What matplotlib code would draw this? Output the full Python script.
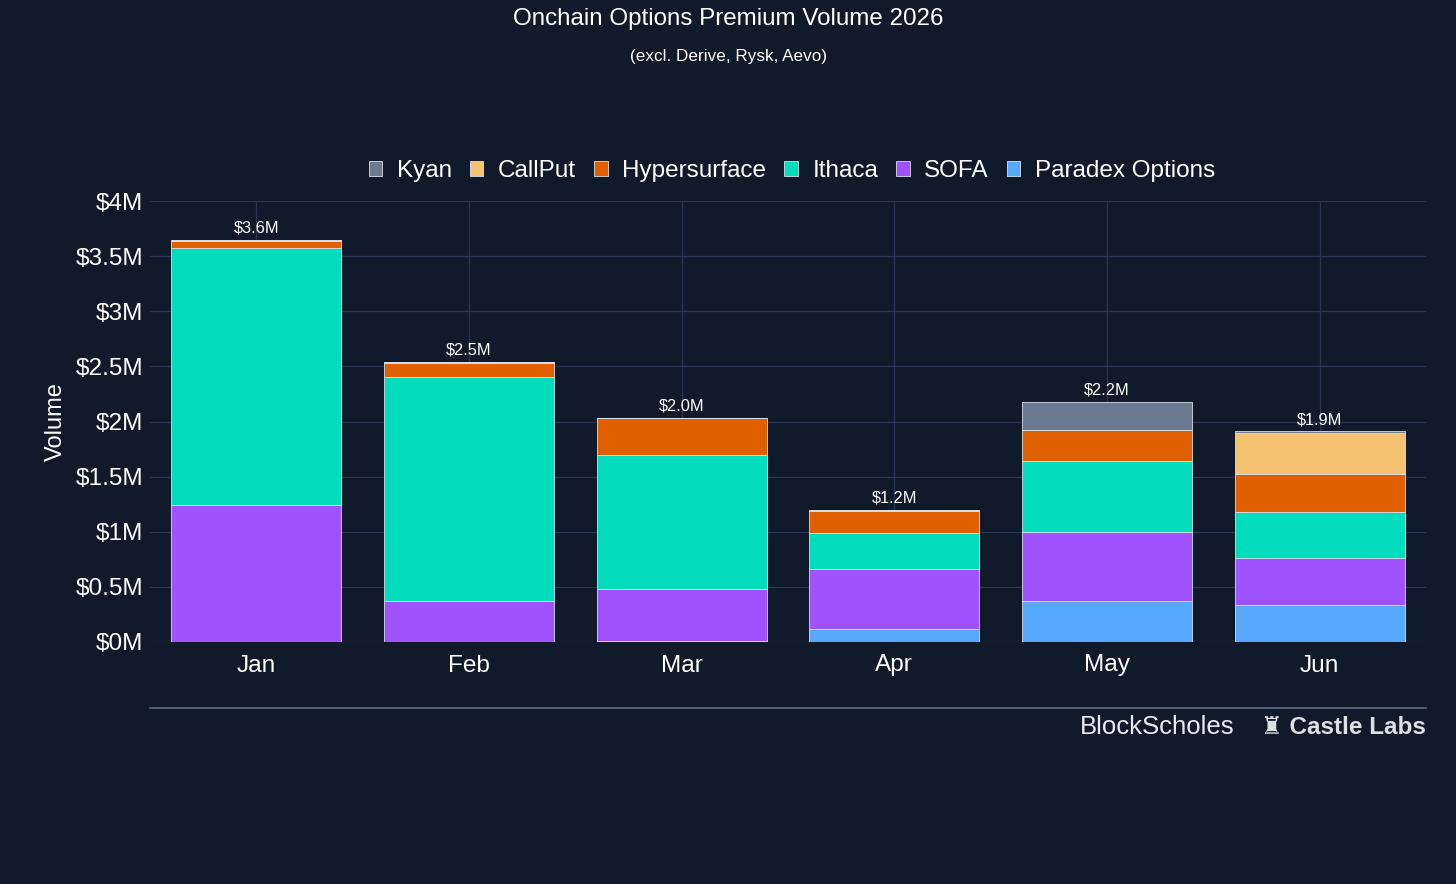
import numpy as np
import matplotlib.pyplot as plt

plt.rcParams['font.family'] = ['Liberation Sans', 'DejaVu Sans']

# 数据 (单位: 百万美元)，从下往上堆叠
months = ["Jan", "Feb", "Mar", "Apr", "May", "Jun"]
paradex = [0.00, 0.00, 0.01, 0.12, 0.37, 0.34]
sofa = [1.24, 0.37, 0.47, 0.54, 0.63, 0.42]
ithaca = [2.33, 2.03, 1.22, 0.33, 0.64, 0.42]
hypersurface = [0.07, 0.13, 0.33, 0.20, 0.28, 0.34]
callput = [0.005, 0.01, 0.005, 0.005, 0.005, 0.38]
kyan = [0.0, 0.0, 0.0, 0.0, 0.25, 0.01]

series = [
    ("Paradex Options", paradex, "#57a9ff"),
    ("SOFA", sofa, "#a052ff"),
    ("Ithaca", ithaca, "#00dcbc"),
    ("Hypersurface", hypersurface, "#e06000"),
    ("CallPut", callput, "#f4c271"),
    ("Kyan", kyan, "#6b7a8f"),
]

BG = "#111a2b"
GRID = "#2a3554"
TXT = "#ffffff"

fig = plt.figure(figsize=(14.56, 8.84), dpi=100, facecolor=BG)
ax = fig.add_axes([150 / 1456, 1 - 642 / 884, 1276 / 1456, 441 / 884])
ax.set_facecolor(BG)

x = np.arange(len(months))
bottom = np.zeros(len(months))
handles = []
for name, vals, color in series:
    vals = np.array(vals)
    h = ax.bar(x, vals, 0.8, bottom=bottom, color=color, edgecolor="#d8e0ea",
               linewidth=0.6, label=name, zorder=3)
    handles.append(h)
    bottom += vals

# 总量标签
for xi, tot in zip(x, bottom):
    ax.text(xi, tot + 0.04, f"${tot:.1f}M", ha="center", va="bottom",
            color=TXT, fontsize=11.8, zorder=4)

ax.set_xlim(-0.5, 5.5)
ax.set_ylim(0, 4)
ax.set_yticks(np.arange(0, 4.01, 0.5))
ax.set_yticklabels(["$0M", "$0.5M", "$1M", "$1.5M", "$2M", "$2.5M", "$3M", "$3.5M", "$4M"])
ax.set_xticks(x)
ax.set_xticklabels(months)
ax.tick_params(colors=TXT, labelsize=17.6, length=0)
ax.tick_params(axis="y", pad=5)
ax.tick_params(axis="x", pad=9)
ax.grid(True, color=GRID, linewidth=0.9, zorder=0)
for s in ax.spines.values():
    s.set_visible(False)
ax.set_ylabel("Volume", color=TXT, fontsize=17, labelpad=6)

# 图例 (顺序与堆叠相反)
leg = fig.legend(handles[::-1], [s[0] for s in series][::-1], loc="center",
                 bbox_to_anchor=(792 / 1456, 1 - 171 / 884), ncol=6, frameon=False,
                 fontsize=17.5, handlelength=0.55, handleheight=0.55,
                 handletextpad=0.6, columnspacing=0.75, labelcolor=TXT)

fig.text(728 / 1456, 1 - 19 / 884, "Onchain Options Premium Volume 2026",
         ha="center", va="center", color=TXT, fontsize=17.4)
fig.text(728 / 1456, 1 - 57 / 884, "(excl. Derive, Rysk, Aevo)",
         ha="center", va="center", color=TXT, fontsize=12.3)

# 底部分隔线与 logo 文字
fig.add_artist(plt.Line2D([150 / 1456, 1426 / 1456], [1 - 708 / 884, 1 - 708 / 884],
                          color="#5a6b85", linewidth=1.2))
fig.text(1235 / 1456, 1 - 727 / 884, "BlockScholes", ha="right", va="center",
         color="#e8ecf2", fontsize=18.5)
fig.text(1426 / 1456, 1 - 727 / 884, "♜ Castle Labs", ha="right", va="center",
         color="#dcdfe4", fontsize=17.5, fontweight="bold",
         family=["Liberation Sans", "DejaVu Sans"])

fig.savefig("out.png", dpi=100, facecolor=BG)
